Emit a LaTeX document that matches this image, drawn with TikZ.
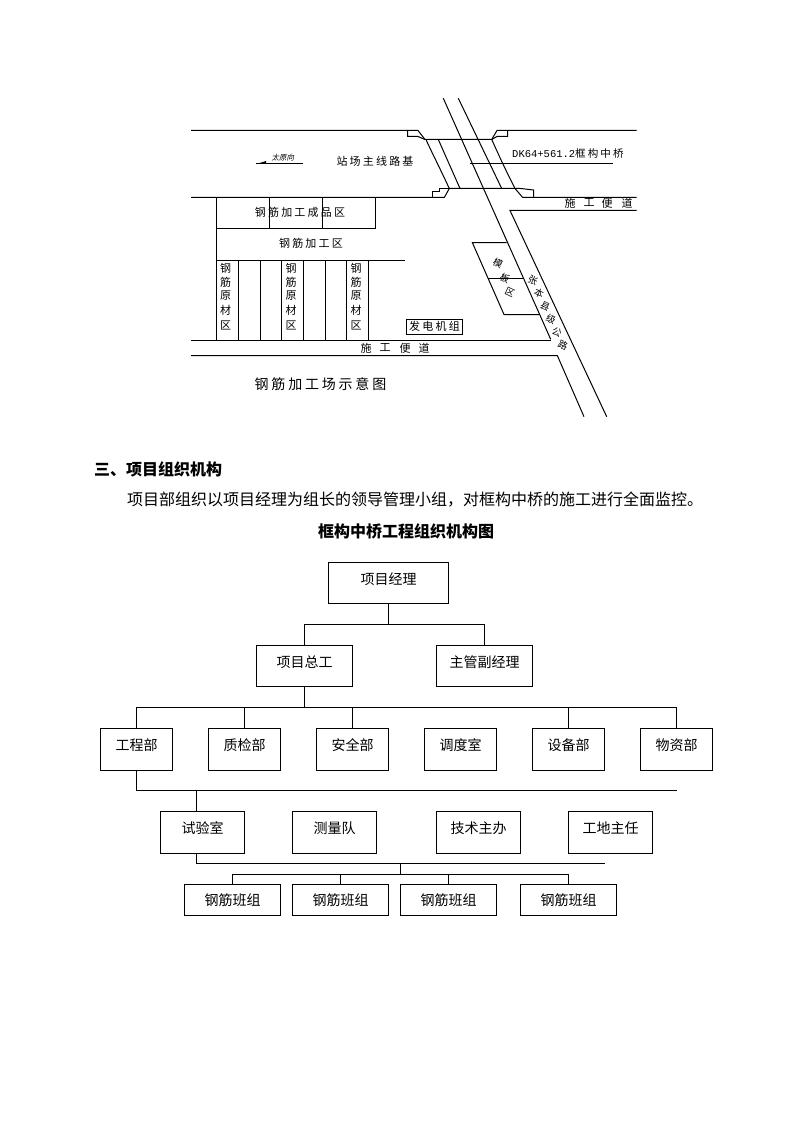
\documentclass[tikz,border=0pt]{standalone}
\usepackage{fontspec}
\usepackage{tikz}
\usetikzlibrary{positioning, calc}
\setmainfont{Liberation Serif}
\newfontfamily\cjk{Noto Sans CJK SC}
\newfontfamily\cjkwide[LetterSpace=20]{Noto Sans CJK SC}
\newfontfamily\dkfont{Liberation Mono}
\tikzset{
  plan/.style={line width=1pt},
  orgbox/.style={draw, line width=1pt, inner sep=0pt, text depth=9pt, font=\cjk\fontsize{14}{14}\selectfont},
  orgline/.style={line width=1pt},
  plantext/.style={inner sep=0pt, font=\cjkwide\fontsize{11}{11}\selectfont},
  onechar/.style={inner sep=0pt, font=\cjk\fontsize{11}{11}\selectfont},
  roadchar/.style={inner sep=0pt, rotate=-25, font=\cjk\fontsize{9.5}{10}\selectfont},
  bodytext/.style={inner sep=0pt, anchor=west, font=\cjk\fontsize{16}{16}\selectfont},
}
\begin{document}
\begin{tikzpicture}[x=1pt, y=-1pt]
  \useasboundingbox (0,0) rectangle (794,1123);

  % plan: station line and bridge
  \draw[plan] (191,130.5) -- (418,130.5) -- (425,139.5) -- (491.7,139.5) -- (497,130.5) -- (636.7,130.5);
  \draw[plan] (407.5,130.5) -- (407.5,136.5) -- (418,136.5) -- (425,139.5);
  \draw[plan] (491.7,139.5) -- (497,136.5) -- (507.5,136.5) -- (507.5,130.5);
  \draw[plan] (191,197.5) -- (444.3,197.5) -- (449.3,188.5) -- (520.7,188.5) -- (533.5,190) -- (533.5,197.5) -- (636.7,197.5);
  \draw[plan] (432.5,197.5) -- (432.5,191.5) -- (439.5,191.5) -- (439.5,188.5) -- (449.3,188.5);
  \draw[plan] (515,188.5) -- (522.7,197.5) -- (533.5,197.5);
  \draw[plan] (426,139.5) .. controls (431,151) and (436,160) .. (449.3,188.5);
  \draw[plan] (438.3,139.5) -- (460,188.5);
  \draw[plan] (491.7,139.5) .. controls (497,151) and (503,165) .. (515,188.5);
  % plan: road
  \draw[plan] (443.3,98.3) -- (550.7,339.3);
  \draw[plan] (458.3,98.3) -- (501.7,188.5);
  \draw[plan] (636.7,210.5) -- (510,210.5) -- (606.7,416.7);
  \draw[plan] (470,163.5) -- (613,163.5);
  \draw[plan] (191,340.5) -- (550.7,340.5);
  \draw[plan] (191,355.5) -- (557.3,355.5) -- (584,416.7);
  % plan: formwork yard
  \draw[plan] (506.7,242.5) -- (472.3,242.5) -- (504,314.5) -- (539,314.5);
  \draw[plan] (488.3,278.5) -- (523.3,278.5);
  % plan: rebar yard
  \draw[plan] (216.5,197.5) -- (216.5,340.5);
  \draw[plan] (216.5,228.5) -- (375.5,228.5) -- (375.5,197.5);
  \draw[plan] (216.5,260.5) -- (405,260.5);
  \foreach \x in {269.5,322.5} {
    \draw[plan] (\x,197.5) -- (\x,228.5);
  }
  \foreach \x in {238.5,260.5,281.5,303.5,325.5,346.5,368.5} {
    \draw[plan] (\x,260.5) -- (\x,340.5);
  }
  \draw[plan] (256,163.5) -- (302.7,163.5);
  \fill (258,163.5) -- (266,163.5) -- (266,161) -- cycle;

  % plan labels
  \node[inner sep=0pt, font=\cjk\fontsize{7.5}{8}\selectfont, xslant=0.2] (taiyuan) at (283.5,158) {太原向};
  \node[plantext] (mainline) at (375,161) {站场主线路基};
  \node[plantext] (product) at (300,212) {钢筋加工成品区};
  \node[plantext] (process) at (311,243) {钢筋加工区};
  \foreach \x in {225.7,291,356} {
    \foreach \y/\c in {268/钢,282/筋,296/原,310/材,325/区} {
      \node[onechar] at (\x,\y) {\c};
    }
  }
  \foreach \x/\c in {366/施,385/工,405/便,424/道} {
    \node[onechar] at (\x,348) {\c};
  }
  \foreach \x/\c in {570/施,589/工,607/便,627/道} {
    \node[onechar] at (\x,203) {\c};
  }
  \node[inner sep=0pt, anchor=west, font=\dkfont\fontsize{10.5}{11}\selectfont] (dk) at (512,154) {DK64+561.2{\cjkwide 框构中桥}};
  \node[draw, line width=1pt, inner sep=0pt, minimum width=56pt, minimum height=15pt, font=\cjkwide\fontsize{11}{11}\selectfont] (gen) at (434.5,326.5) {发电机组};
  \foreach \x/\y/\c in {498/263/模,505/278/板,510/292/区} {
    \node[roadchar] at (\x,\y) {\c};
  }
  \foreach \x/\y/\c in {533/280/张,539/293/本,545/306/县,551/319/级,557/332/公,563/345/路} {
    \node[roadchar] at (\x,\y) {\c};
  }
  \node[inner sep=0pt, font=\cjkwide\fontsize{14}{14}\selectfont] (plantitle) at (320.5,384) {钢筋加工场示意图};

  % text between the two figures
  \node[bodytext, font=\bfseries\cjk\fontsize{16}{16}\selectfont] (sec) at (94,469) {三、项目组织机构};
  \node[bodytext] (para) at (127,500) {项目部组织以项目经理为组长的领导管理小组，对框构中桥的施工进行全面监控。};
  \node[bodytext, font=\bfseries\cjk\fontsize{16}{16}\selectfont] (title) at (318,531) {框构中桥工程组织机构图};

  % org chart
  \node[orgbox, minimum width=120pt, minimum height=41pt] (pm) at (388.5,583) {项目经理};
  \node[orgbox, minimum width=96pt, minimum height=41pt] (chief) at (304.5,666) {项目总工};
  \node[orgbox, minimum width=96pt, minimum height=41pt] (deputy) at (484.5,666) {主管副经理};
  \foreach \n/\x/\c in {eng/136.5/工程部,qc/244.5/质检部,safe/352.5/安全部,disp/460.5/调度室,equip/568.5/设备部,supply/676.5/物资部} {
    \node[orgbox, minimum width=72pt, minimum height=42pt] (\n) at (\x,749.5) {\c};
  }
  \foreach \n/\x/\c in {lab/202.5/试验室,survey/334.5/测量队,tech/478.5/技术主办,site/610.5/工地主任} {
    \node[orgbox, minimum width=84pt, minimum height=42pt] (\n) at (\x,832.5) {\c};
  }
  \foreach \n/\x in {teama/232.5,teamb/340.5,teamc/448.5,teamd/568.5} {
    \node[orgbox, minimum width=96pt, minimum height=31pt, text depth=0pt] (\n) at (\x,900) {钢筋班组};
  }

  \coordinate (busa) at (388.5,624.5);
  \coordinate (busb) at (304.5,707.5);
  \coordinate (busc) at (196.5,790.5);
  \coordinate (busd) at (196.5,863.5);
  \coordinate (buse) at (400.5,874.5);
  \coordinate (endc) at (677,790.5);
  \coordinate (endd) at (604.5,863.5);

  \draw[orgline] (pm) -- (busa);
  \draw[orgline] (chief.north) |- (busa) -| (deputy.north);
  \draw[orgline] (chief) -- (busb);
  \foreach \n in {eng,supply,equip} {
    \draw[orgline] (\n.north) |- (busb);
  }
  \draw[orgline] (eng.south) |- (endc);
  \draw[orgline] (busc) -- (busc |- lab.north);
  \draw[orgline] (busc |- lab.south) -- (busd) -- (endd);
  \draw[orgline] (buse |- busd) -- (buse);
  \foreach \n in {teama,teamb,teamc,teamd} {
    \draw[orgline] (\n.north) |- (buse);
  }
  \foreach \n in {qc,safe} {
    \draw[orgline] (\n.north) -- (\n.north |- busb);
  }
\end{tikzpicture}
\end{document}
